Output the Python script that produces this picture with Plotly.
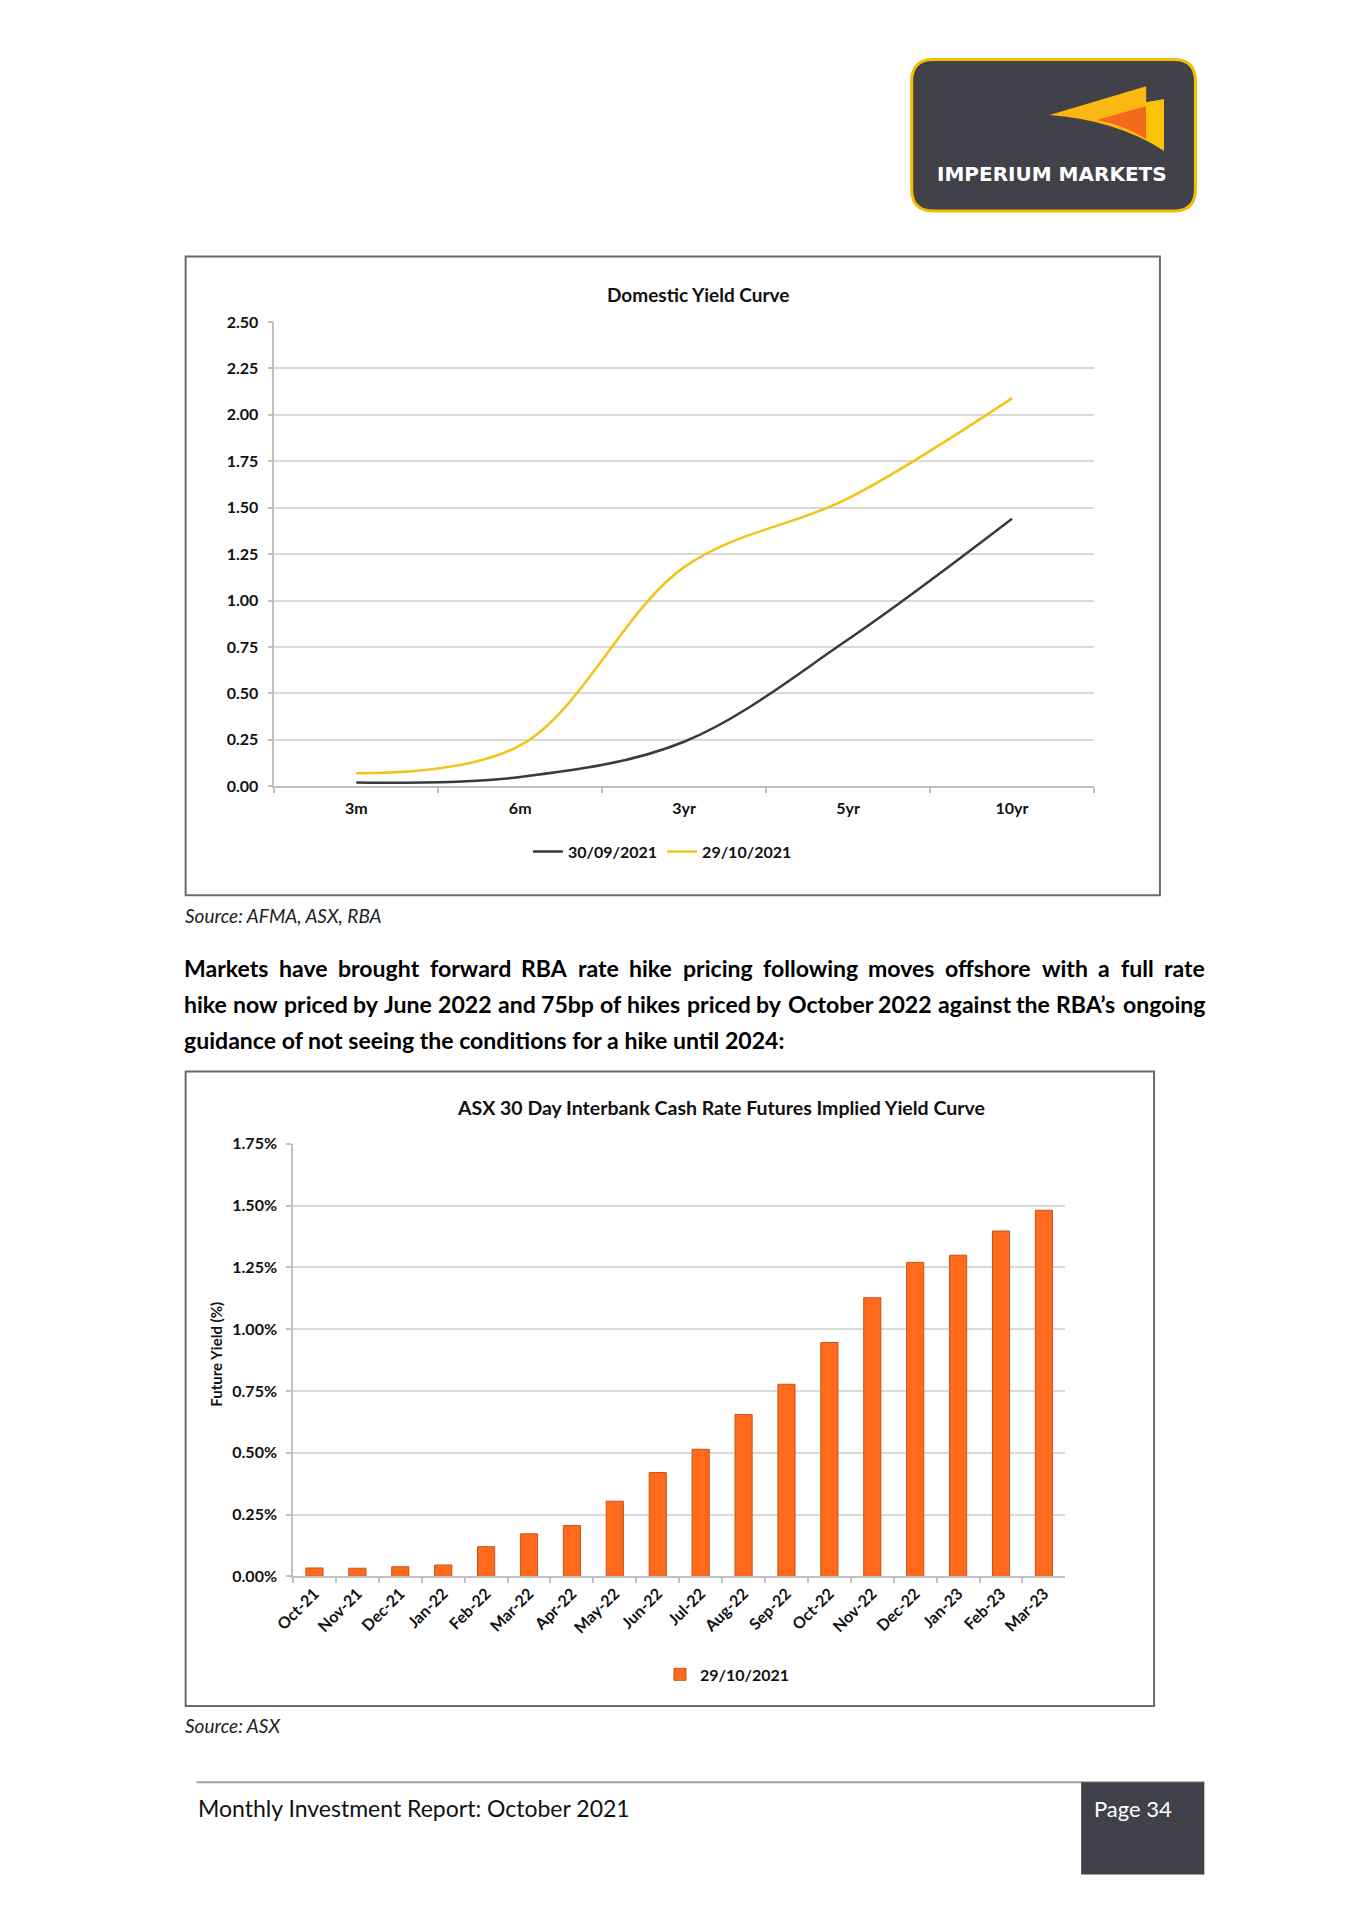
import os
import struct
import plotly.graph_objects as go

PAGE_W, PAGE_H = 1365, 1930
BODY_MARGIN = 8
W, H = PAGE_W - 2 * BODY_MARGIN, PAGE_H - 2 * BODY_MARGIN

# ---------------- data ----------------
tenors = ["3m", "6m", "3yr", "5yr", "10yr"]
yield_30sep2021 = [0.02, 0.05, 0.24, 0.79, 1.44]
yield_29oct2021 = [0.07, 0.22, 1.18, 1.55, 2.09]

months = ["Oct-21", "Nov-21", "Dec-21", "Jan-22", "Feb-22", "Mar-22", "Apr-22",
          "May-22", "Jun-22", "Jul-22", "Aug-22", "Sep-22", "Oct-22", "Nov-22",
          "Dec-22", "Jan-23", "Feb-23", "Mar-23"]
futures_29oct2021 = [0.034, 0.033, 0.039, 0.046, 0.120, 0.172, 0.206, 0.304, 0.420,
                     0.514, 0.655, 0.777, 0.946, 1.127, 1.270, 1.299, 1.397, 1.481]

paragraph = [
    "Markets have brought forward RBA rate hike pricing following moves offshore with a full rate",
    "hike now priced by June 2022 and 75bp of hikes priced by October 2022 against the RBA\u2019s ongoing",
    "guidance of not seeing the conditions for a hike until 2024:",
]

FONT = "Lato"
BLACK_LINE = "#3a3a3a"
YELLOW_LINE = "#f3c317"
ORANGE = "#ff6a1c"
DARK = "#404149"


def X(px):
    return (px - BODY_MARGIN) / W


def Y(py):
    return 1 - (py - BODY_MARGIN) / H


# ---------- font metrics (for justified paragraph) ----------
def find_font(names):
    roots = ["/usr/share/fonts", "/usr/local/share/fonts",
             os.path.expanduser("~/.fonts"), os.path.expanduser("~/.local/share/fonts")]
    for root in roots:
        if not os.path.isdir(root):
            continue
        for dp, _, fns in os.walk(root):
            for f in fns:
                if f in names:
                    return os.path.join(dp, f)
    return None


def load_width_fn(path):
    data = open(path, "rb").read()
    num_tables = struct.unpack(">H", data[4:6])[0]
    tables = {}
    for i in range(num_tables):
        rec = data[12 + 16 * i: 28 + 16 * i]
        tag = rec[:4].decode("latin1")
        off, length = struct.unpack(">II", rec[8:16])
        tables[tag] = (off, length)
    head = tables["head"][0]
    upem = struct.unpack(">H", data[head + 18: head + 20])[0]
    hhea = tables["hhea"][0]
    nhm = struct.unpack(">H", data[hhea + 34: hhea + 36])[0]
    hoff = tables["hmtx"][0]
    adv = [struct.unpack(">H", data[hoff + 4 * i: hoff + 4 * i + 2])[0] for i in range(nhm)]
    coff = tables["cmap"][0]
    n = struct.unpack(">H", data[coff + 2: coff + 4])[0]
    sub = None
    for i in range(n):
        pid, eid, so = struct.unpack(">HHI", data[coff + 4 + 8 * i: coff + 12 + 8 * i])
        fmt = struct.unpack(">H", data[coff + so: coff + so + 2])[0]
        if fmt == 4 and pid in (0, 3):
            sub = coff + so
            break
    seg_x2 = struct.unpack(">H", data[sub + 6: sub + 8])[0]
    seg = seg_x2 // 2
    ends = struct.unpack(">%dH" % seg, data[sub + 14: sub + 14 + seg_x2])
    starts = struct.unpack(">%dH" % seg, data[sub + 16 + seg_x2: sub + 16 + 2 * seg_x2])
    deltas = struct.unpack(">%dh" % seg, data[sub + 16 + 2 * seg_x2: sub + 16 + 3 * seg_x2])
    roff_pos = sub + 16 + 3 * seg_x2
    roffs = struct.unpack(">%dH" % seg, data[roff_pos: roff_pos + seg_x2])

    def gid(c):
        for k in range(seg):
            if ends[k] >= c:
                if starts[k] > c:
                    return 0
                if roffs[k] == 0:
                    return (c + deltas[k]) & 0xFFFF
                addr = roff_pos + 2 * k + roffs[k] + 2 * (c - starts[k])
                g = struct.unpack(">H", data[addr: addr + 2])[0]
                return (g + deltas[k]) & 0xFFFF if g else 0
        return 0

    def width(text, size):
        tot = 0
        for ch in text:
            g = gid(ord(ch))
            tot += adv[min(g, nhm - 1)]
        return tot / upem * size

    return width


width_fn = None
try:
    fp = find_font({"Lato-Bold.ttf"})
    if fp:
        width_fn = load_width_fn(fp)
except Exception:
    width_fn = None

fig = go.Figure()

# ---------------- chart 1: Domestic Yield Curve ----------------
fig.add_trace(go.Scatter(x=tenors, y=yield_30sep2021, name="30/09/2021", mode="lines",
                         line=dict(color=BLACK_LINE, width=2.5, shape="spline", smoothing=1.0),
                         xaxis="x", yaxis="y", legend="legend"))
fig.add_trace(go.Scatter(x=tenors, y=yield_29oct2021, name="29/10/2021", mode="lines",
                         line=dict(color=YELLOW_LINE, width=2.5, shape="spline", smoothing=1.0),
                         xaxis="x", yaxis="y", legend="legend"))

# ---------------- chart 2: ASX futures ----------------
fig.add_trace(go.Bar(x=months, y=futures_29oct2021, name="29/10/2021",
                     marker=dict(color=ORANGE, line=dict(color="#c4561a", width=1)),
                     xaxis="x2", yaxis="y2", legend="legend2"))

tickfont = dict(family=FONT, size=16, color="#111111", weight="bold")
axis_common = dict(showline=True, linecolor="#c0c0c0", linewidth=1.5,
                   ticks="outside", ticklen=5, tickcolor="#c0c0c0", tickwidth=1.5,
                   tickfont=tickfont, fixedrange=True)

shapes = []
annotations = []

# chart boxes
shapes.append(dict(type="rect", xref="paper", yref="paper", x0=X(168), x1=X(1157), y0=Y(894), y1=Y(249),
                   line=dict(color="#6b6b6b", width=2), fillcolor="rgba(0,0,0,0)", layer="below"))
shapes.append(dict(type="rect", xref="paper", yref="paper", x0=X(168), x1=X(1151), y0=Y(1713), y1=Y(1072),
                   line=dict(color="#6b6b6b", width=2), fillcolor="rgba(0,0,0,0)", layer="below"))

# chart titles
annotations.append(dict(text="Domestic Yield Curve", x=X(688), y=Y(287), xref="paper", yref="paper",
                        showarrow=False, xanchor="center", yanchor="middle",
                        font=dict(family=FONT, size=19, color="#111111", weight="bold")))
annotations.append(dict(text="ASX 30 Day Interbank Cash Rate Futures Implied Yield Curve",
                        x=X(711), y=Y(1108), xref="paper", yref="paper",
                        showarrow=False, xanchor="center", yanchor="middle",
                        font=dict(family=FONT, size=19.5, color="#111111", weight="bold")))
annotations.append(dict(text="Future Yield (%)", x=X(198), y=Y(1358), xref="paper", yref="paper",
                        showarrow=False, textangle=-90, xanchor="center", yanchor="middle",
                        font=dict(family=FONT, size=15, color="#111111", weight="bold")))

# sources
annotations.append(dict(text="Source: AFMA, ASX, RBA", x=X(165), y=Y(914), xref="paper", yref="paper",
                        showarrow=False, xanchor="left", yanchor="middle",
                        font=dict(family=FONT, size=19, color="#222222", style="italic")))
annotations.append(dict(text="Source: ASX", x=X(165), y=Y(1733), xref="paper", yref="paper",
                        showarrow=False, xanchor="left", yanchor="middle",
                        font=dict(family=FONT, size=19, color="#222222", style="italic")))

# paragraph, justified
P_LEFT, P_RIGHT = 165, 1201
line_y = [968, 1004, 1040]
LAST_LINE_WIDTH = 613  # width of the last (unjustified) line in the reference

if width_fn is not None:
    psize = LAST_LINE_WIDTH / width_fn(paragraph[-1], 1.0)
    psize = max(19.0, min(25.0, psize))
    for line in paragraph[:-1]:
        nat = width_fn(line, psize)
        if nat > (P_RIGHT - P_LEFT) * 0.985:
            psize *= (P_RIGHT - P_LEFT) * 0.985 / nat
else:
    psize = 23
pfont = dict(family=FONT, size=psize, color="#000000", weight="bold")


def add_text(txt, x, y, anchor):
    annotations.append(dict(text=txt, x=X(x), y=Y(y), xref="paper", yref="paper", showarrow=False,
                            xanchor=anchor, yanchor="middle", font=pfont, borderpad=0))


for i, line in enumerate(paragraph):
    if i == len(paragraph) - 1:
        add_text(line, P_LEFT, line_y[i], "left")
        continue
    words = line.split(" ")
    if width_fn is not None:
        ws = [width_fn(w, psize) for w in words]
        gap = ((P_RIGHT - P_LEFT) - sum(ws)) / (len(words) - 1)
        x = P_LEFT
        for w, wd in zip(words, ws):
            add_text(w, x, line_y[i], "left")
            x += wd + gap
    else:
        half = len(words) // 2
        add_text(" ".join(words[:half]), P_LEFT, line_y[i], "left")
        add_text(" ".join(words[half:]), P_RIGHT, line_y[i], "right")

# footer
shapes.append(dict(type="line", xref="paper", yref="paper", x0=X(179), x1=X(1202), y0=Y(1790), y1=Y(1790),
                   line=dict(color="#a0a0a0", width=2)))
shapes.append(dict(type="rect", xref="paper", yref="paper", x0=X(1077), x1=X(1202), y0=Y(1883), y1=Y(1790),
                   line=dict(width=0), fillcolor=DARK))
annotations.append(dict(text="Monthly Investment Report: October 2021", x=X(179), y=Y(1816),
                        xref="paper", yref="paper", showarrow=False, xanchor="left", yanchor="middle",
                        font=dict(family=FONT, size=23, color="#111111")))
annotations.append(dict(text="Page 34", x=X(1130), y=Y(1816), xref="paper", yref="paper",
                        showarrow=False, xanchor="center", yanchor="middle",
                        font=dict(family=FONT, size=22, color="#ffffff")))


# logo
def P(px, py):
    return f"{X(px):.6f},{Y(py):.6f}"


x0, x1, y0, y1, r = 905, 1193, 50, 203, 22
rr = (f"M {P(x0 + r, y0)} L {P(x1 - r, y0)} Q {P(x1, y0)} {P(x1, y0 + r)} "
      f"L {P(x1, y1 - r)} Q {P(x1, y1)} {P(x1 - r, y1)} L {P(x0 + r, y1)} "
      f"Q {P(x0, y1)} {P(x0, y1 - r)} L {P(x0, y0 + r)} Q {P(x0, y0)} {P(x0 + r, y0)} Z")
shapes.append(dict(type="path", xref="paper", yref="paper", path=rr, fillcolor=DARK,
                   line=dict(color="#f2be00", width=3)))
wedge = (f"M {P(1045, 106)} L {P(1143, 77)} L {P(1143, 93)} L {P(1161, 90)} L {P(1161, 142)} "
         f"Q {P(1112, 111)} {P(1045, 106)} Z")
shapes.append(dict(type="path", xref="paper", yref="paper", path=wedge, fillcolor="#fbb812",
                   line=dict(width=0)))
orange_part = f"M {P(1093, 111)} L {P(1143, 97)} L {P(1143, 130)} Q {P(1120, 116)} {P(1093, 111)} Z"
shapes.append(dict(type="path", xref="paper", yref="paper", path=orange_part, fillcolor="#f26a1b",
                   line=dict(width=0)))
strip = f"M {P(1143, 93)} L {P(1161, 90)} L {P(1161, 142)} L {P(1143, 130)} Z"
shapes.append(dict(type="path", xref="paper", yref="paper", path=strip, fillcolor="#fcc20a",
                   line=dict(width=0)))
annotations.append(dict(text="IMPERIUM MARKETS", x=X(1047), y=Y(166), xref="paper", yref="paper",
                        showarrow=False, xanchor="center", yanchor="middle",
                        font=dict(family="DejaVu Sans", size=20, color="#ffffff", weight="bold")))

fig.update_layout(
    width=W, height=H,
    margin=dict(l=0, r=0, t=0, b=0),
    paper_bgcolor="white", plot_bgcolor="white",
    showlegend=True,
    xaxis=dict(domain=[X(258), X(1090)], anchor="y", type="category", range=[-0.5, 4.5],
               tickson="boundaries", ticklabelstandoff=7, showgrid=False, **axis_common),
    yaxis=dict(domain=[Y(784), Y(315)], anchor="x", range=[0, 2.5], dtick=0.25, tickformat=".2f",
               showgrid=True, gridcolor="#d9d9d9", gridwidth=1.5, zeroline=False,
               ticklabelstandoff=6, **axis_common),
    xaxis2=dict(domain=[X(277), X(1061)], anchor="y2", type="category", range=[-0.5, 17.5],
                tickson="boundaries", tickangle=-45, showgrid=False, **axis_common),
    yaxis2=dict(domain=[Y(1582), Y(1145)], anchor="x2", range=[0, 1.75], dtick=0.25, tickformat=".2f",
                ticksuffix="%", showgrid=True, gridcolor="#d9d9d9", gridwidth=1.5, zeroline=False,
                ticklabelstandoff=6, **axis_common),
    bargap=0.6,
    legend=dict(orientation="h", x=X(652), y=Y(850), xanchor="center", yanchor="middle",
                font=dict(family=FONT, size=16, color="#111111", weight="bold"),
                itemwidth=30, bgcolor="rgba(0,0,0,0)", traceorder="normal"),
    legend2=dict(orientation="h", x=X(718), y=Y(1681), xanchor="center", yanchor="middle",
                 font=dict(family=FONT, size=16, color="#111111", weight="bold"),
                 itemwidth=30, bgcolor="rgba(0,0,0,0)"),
    shapes=shapes,
    annotations=annotations,
)

fig.write_html("out.html", config={"displayModeBar": False})
